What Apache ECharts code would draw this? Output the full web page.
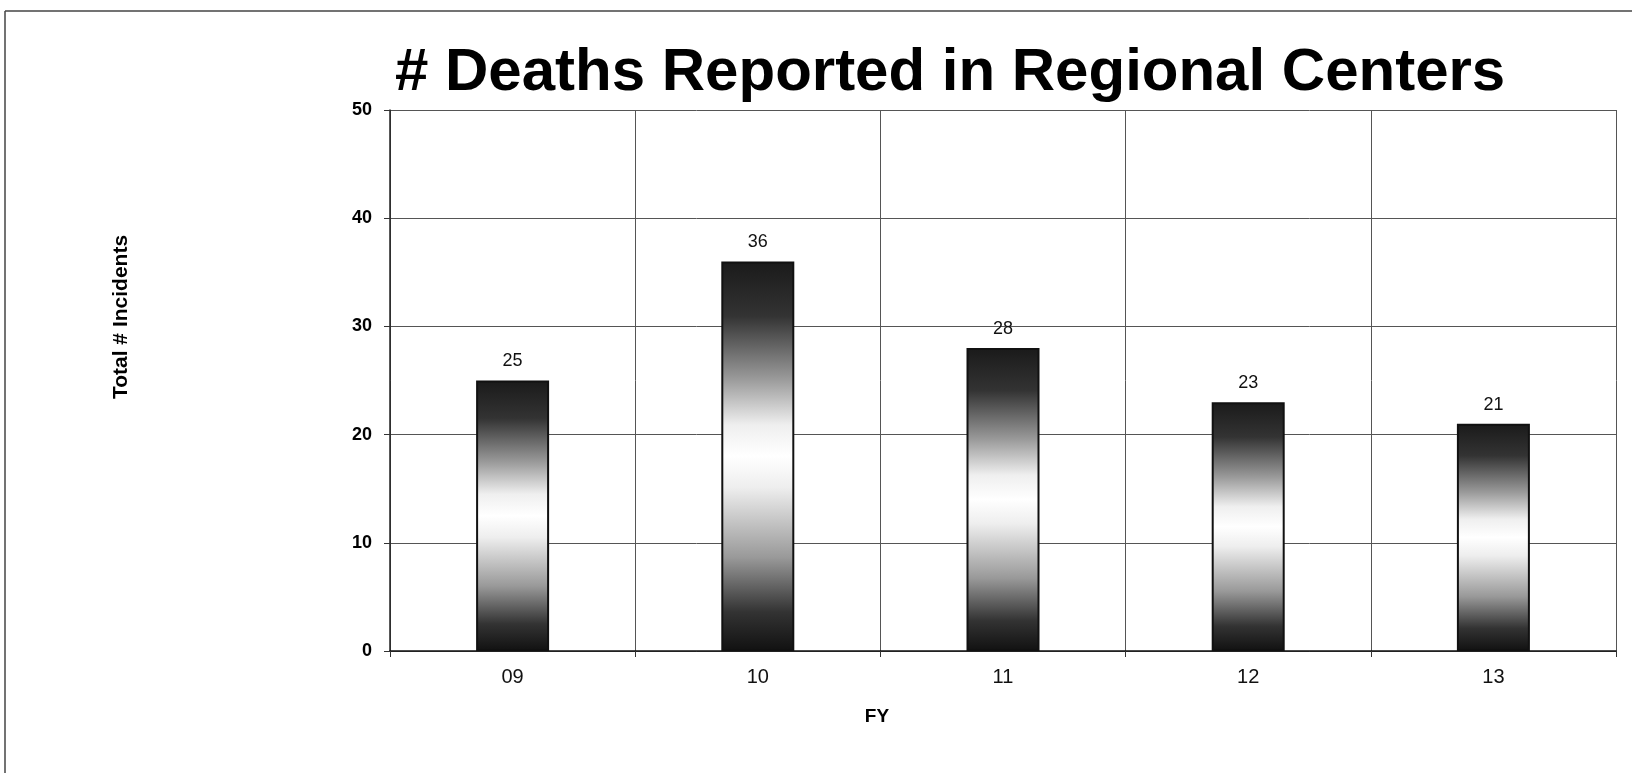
<!DOCTYPE html>
<html>
<head>
<meta charset="utf-8">
<script src="https://cdn.jsdelivr.net/npm/echarts@6/dist/echarts.min.js"></script>
<style>
html,body{margin:0;padding:0;background:#fff;}
#chart{width:1632px;height:773px;}
</style>
</head>
<body>
<div id="chart"></div>
<script>
const titleText = '# Deaths Reported in Regional Centers';
const categories = ['09', '10', '11', '12', '13'];
const deaths = [25, 36, 28, 23, 21];
const yTicks = { min: 0, max: 50, interval: 10 };
const xAxisName = 'FY';
const yAxisName = 'Total # Incidents';

const chart = echarts.init(document.getElementById('chart'), null, { renderer: 'canvas' });
const font = '"Liberation Sans", Arial, Helvetica, sans-serif';

const barGradient = new echarts.graphic.LinearGradient(0, 0, 0, 1, [
  { offset: 0, color: '#1a1a1a' },
  { offset: 0.14, color: '#333333' },
  { offset: 0.3, color: '#999999' },
  { offset: 0.42, color: '#efefef' },
  { offset: 0.5, color: '#ffffff' },
  { offset: 0.58, color: '#eeeeee' },
  { offset: 0.76, color: '#999999' },
  { offset: 0.9, color: '#333333' },
  { offset: 1, color: '#111111' }
]);

chart.setOption({
  animation: false,
  backgroundColor: '#ffffff',
  title: {
    text: titleText,
    left: 390,
    top: 38,
    textStyle: { fontFamily: font, fontWeight: 'bold', fontSize: 60, color: '#000' }
  },
  graphic: [
    { type: 'line', shape: { x1: 5, y1: 11, x2: 1632, y2: 11 }, style: { stroke: '#444', lineWidth: 1.5 } },
    { type: 'line', shape: { x1: 5, y1: 11, x2: 5, y2: 773 }, style: { stroke: '#444', lineWidth: 1.5 } },
    {
      type: 'text',
      x: 121,
      y: 317,
      rotation: Math.PI / 2,
      style: {
        text: yAxisName,
        font: 'bold 21px "Liberation Sans", Arial, sans-serif',
        fill: '#000',
        textAlign: 'center',
        textVerticalAlign: 'middle'
      }
    }
  ],
  grid: { left: 390, right: 16, top: 110, bottom: 122, containLabel: false },
  xAxis: {
    type: 'category',
    data: categories,
    name: xAxisName,
    nameLocation: 'middle',
    nameGap: 56,
    nameTextStyle: { fontFamily: font, fontWeight: 'bold', fontSize: 19, color: '#000', padding: [0, 252, 0, 0] },
    axisLine: { show: true, lineStyle: { color: '#111', width: 1.5 } },
    axisTick: { show: true, alignWithLabel: false, length: 6, lineStyle: { color: '#333' } },
    axisLabel: { fontFamily: font, fontSize: 20, color: '#111', margin: 16 },
    splitLine: { show: true, lineStyle: { color: '#555', width: 1 } },
    boundaryGap: true
  },
  yAxis: {
    type: 'value',
    min: yTicks.min,
    max: yTicks.max,
    interval: yTicks.interval,
    axisLine: { show: true, lineStyle: { color: '#222', width: 1.5 } },
    axisTick: { show: true, length: 6, lineStyle: { color: '#333' } },
    axisLabel: { fontFamily: font, fontWeight: 'bold', fontSize: 18, color: '#000', margin: 18 },
    splitLine: { show: true, lineStyle: { color: '#555', width: 1 } }
  },
  series: [{
    type: 'bar',
    data: deaths,
    barWidth: 73,
    itemStyle: { color: barGradient, borderColor: '#111', borderWidth: 2 },
    label: {
      show: true,
      position: 'top',
      distance: 10,
      fontFamily: font,
      fontSize: 18,
      color: '#111'
    }
  }]
});
</script>
</body>
</html>
